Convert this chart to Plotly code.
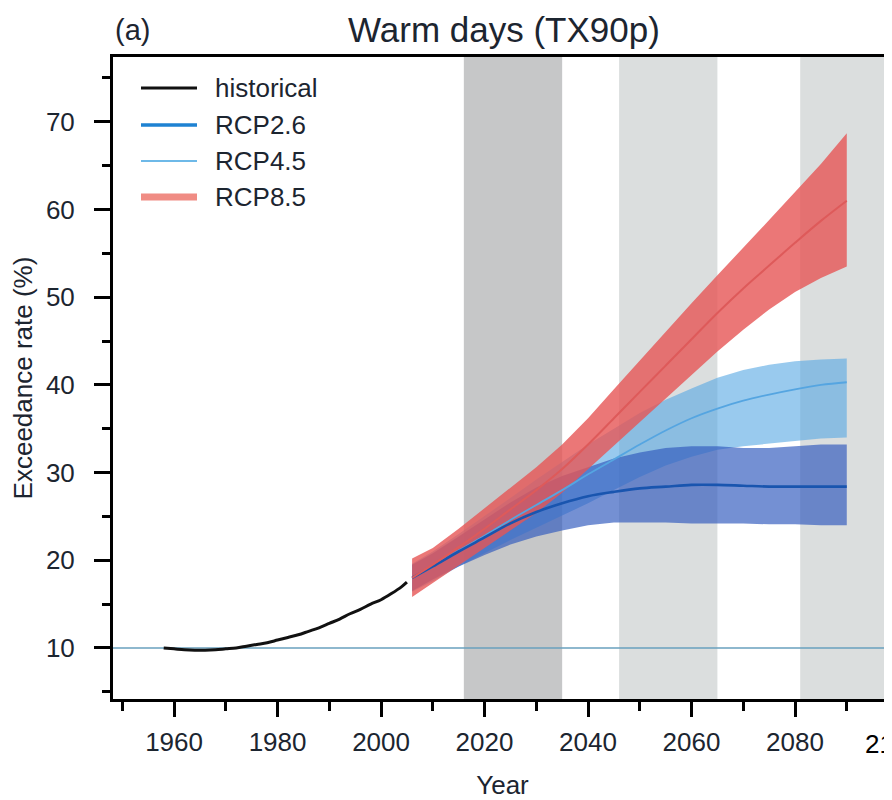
import plotly.graph_objects as go

# ---------------- data ----------------
hist_years = [1958, 1960, 1962, 1964, 1966, 1968, 1970, 1972, 1974, 1976, 1978, 1980,
              1982, 1984, 1986, 1988, 1990, 1992, 1994, 1996, 1998, 2000, 2002, 2004, 2005]
hist_vals = [10.0, 9.9, 9.8, 9.75, 9.75, 9.8, 9.9, 10.0, 10.2, 10.4, 10.6, 10.9,
             11.2, 11.5, 11.9, 12.3, 12.8, 13.3, 13.9, 14.4, 15.0, 15.5, 16.2, 17.0, 17.5]

rcp_years = [2006, 2010, 2015, 2020, 2025, 2030, 2035, 2040, 2045, 2050, 2055, 2060,
             2065, 2070, 2075, 2080, 2085, 2090]

rcp26_mean = [18.0, 19.3, 21.0, 22.6, 24.2, 25.5, 26.5, 27.3, 27.8, 28.2, 28.4, 28.6,
              28.6, 28.5, 28.4, 28.4, 28.4, 28.4]
rcp26_low = [16.5, 17.8, 19.3, 20.6, 21.8, 22.7, 23.4, 24.0, 24.3, 24.3, 24.3, 24.2,
             24.2, 24.2, 24.1, 24.1, 24.0, 24.0]
rcp26_high = [19.5, 20.8, 22.7, 24.6, 26.6, 28.3, 29.6, 30.6, 31.6, 32.3, 32.8, 33.0,
              33.0, 32.8, 32.8, 33.0, 33.2, 33.2]

rcp45_mean = [18.0, 19.3, 21.1, 22.8, 24.6, 26.3, 28.0, 29.8, 31.5, 33.2, 34.8, 36.2,
              37.3, 38.2, 38.9, 39.5, 40.0, 40.3]
rcp45_low = [16.4, 17.6, 19.3, 20.8, 22.3, 23.7, 25.1, 26.5, 28.0, 29.5, 30.8, 31.8,
             32.6, 33.0, 33.3, 33.6, 33.9, 34.0]
rcp45_high = [19.6, 21.0, 23.0, 25.0, 27.1, 29.2, 31.2, 33.2, 35.0, 36.8, 38.3, 39.6,
              40.8, 41.7, 42.3, 42.7, 42.9, 43.0]

rcp85_mean = [18.0, 19.5, 21.5, 23.6, 25.8, 28.0, 30.4, 33.2, 36.2, 39.2, 42.2, 45.2,
              48.2, 51.0, 53.6, 56.2, 58.7, 61.0]
rcp85_low = [15.8, 17.5, 19.5, 21.4, 23.4, 25.4, 27.7, 30.3, 33.0, 35.7, 38.4, 41.1,
             43.8, 46.3, 48.6, 50.6, 52.2, 53.5]
rcp85_high = [20.2, 21.4, 23.6, 25.9, 28.2, 30.6, 33.2, 36.2, 39.5, 42.8, 46.0, 49.3,
              52.5, 55.6, 58.8, 62.0, 65.2, 68.7]

periods = [(2016, 2035), (2046, 2065), (2081, 2100)]
baseline = 10
series_names = ["historical", "RCP2.6", "RCP4.5", "RCP8.5"]

# ---------------- styling ----------------
FONT = "Liberation Sans, Arial, Helvetica, sans-serif"
TXT = "#1c2530"
OFF = 8                      # page body margin offset
W, H = 892 - OFF, 800 - OFF
ML, MR, MT = 113 - OFF, 0, 57 - OFF
MB = H - (699 - OFF)
PW, PH = W - ML - MR, H - MT - MB
X_RANGE = [1948.2, 2098.74]
Y_RANGE = [4.18, 77.39]

def px(x):   # page pixel -> paper fraction
    return (x - OFF - ML) / PW

def py(y):
    return (H - MB - (y - OFF)) / PH

fig = go.Figure()

def band(years, low, high, color):
    fig.add_trace(go.Scatter(
        x=list(years) + list(years)[::-1],
        y=list(high) + list(low)[::-1],
        fill="toself", fillcolor=color, mode="lines",
        line=dict(width=0, color=color), hoverinfo="skip", showlegend=False))

band(rcp_years, rcp45_low, rcp45_high, "rgba(90,170,228,0.62)")
band(rcp_years, rcp26_low, rcp26_high, "rgba(50,92,190,0.68)")
band(rcp_years, rcp85_low, rcp85_high, "rgba(230,85,85,0.80)")

fig.add_trace(go.Scatter(x=rcp_years, y=rcp45_mean, mode="lines", name=series_names[2],
                         line=dict(color="rgb(85,165,225)", width=1.8, shape="spline"),
                         showlegend=False))
fig.add_trace(go.Scatter(x=rcp_years, y=rcp26_mean, mode="lines", name=series_names[1],
                         line=dict(color="rgb(25,85,175)", width=2.6, shape="spline"),
                         showlegend=False))
fig.add_trace(go.Scatter(x=rcp_years, y=rcp85_mean, mode="lines", name=series_names[3],
                         line=dict(color="rgb(222,90,90)", width=2, shape="spline"),
                         showlegend=False))
fig.add_trace(go.Scatter(x=hist_years, y=hist_vals, mode="lines", name=series_names[0],
                         line=dict(color="#111111", width=3, shape="spline"),
                         showlegend=False))

# period shading
shades = ["rgb(198,199,200)", "rgb(219,222,222)", "rgb(219,222,222)"]
for (a, b), c in zip(periods, shades):
    fig.add_shape(type="rect", xref="x", yref="paper", x0=a, x1=b, y0=0, y1=1,
                  fillcolor=c, line=dict(width=0), layer="below")
fig.add_shape(type="line", xref="paper", yref="y", x0=0, x1=1, y0=baseline, y1=baseline,
              line=dict(color="rgb(105,160,190)", width=1.6), layer="below")

# manual legend
leg_rows = [88, 125, 161, 197]
leg_styles = [("#111111", 3), ("rgb(30,130,210)", 3.5), ("rgb(110,185,232)", 2),
              ("rgb(240,140,132)", 7)]
for name, yy, (col, lw) in zip(series_names, leg_rows, leg_styles):
    fig.add_shape(type="line", xref="paper", yref="paper", x0=px(141), x1=px(197),
                  y0=py(yy), y1=py(yy), line=dict(color=col, width=lw))
    fig.add_annotation(xref="paper", yref="paper", x=px(213), y=py(yy), text=name,
                       showarrow=False, xanchor="left", yanchor="middle",
                       font=dict(family=FONT, size=26, color=TXT))

# panel label and partial tick label at the cut edge
fig.add_annotation(xref="paper", yref="paper", x=px(132), y=py(30), text="(a)",
                   showarrow=False, xanchor="center", yanchor="middle",
                   font=dict(family=FONT, size=29, color=TXT))
fig.add_annotation(xref="paper", yref="paper", x=px(863),
                   y=py(744), text="2100", showarrow=False, xanchor="left",
                   yanchor="middle", font=dict(family=FONT, size=26, color="#000"))

fig.update_layout(
    width=W, height=H,
    margin=dict(l=ML, r=MR, t=MT, b=MB, pad=0),
    paper_bgcolor="white", plot_bgcolor="white",
    font=dict(family=FONT, color=TXT, size=26),
    title=dict(text="Warm days (TX90p)", x=(504 - OFF) / W, xanchor="center",
               y=1 - (30 - OFF) / H, yanchor="middle",
               font=dict(family=FONT, size=35, color=TXT)),
    showlegend=False,
    xaxis=dict(range=X_RANGE, showgrid=False, zeroline=False,
               showline=True, linecolor="black", linewidth=3, mirror=True,
               ticks="outside", ticklen=15, tickwidth=2.5, tickcolor="black",
               tick0=1960, dtick=20, ticklabelstandoff=3,
               tickfont=dict(family=FONT, size=26, color=TXT),
               minor=dict(dtick=10, tick0=1950, ticks="outside", ticklen=9,
                          tickwidth=2.5, tickcolor="black"),
               title=dict(text="Year", standoff=22,
                          font=dict(family=FONT, size=26, color=TXT))),
    yaxis=dict(range=Y_RANGE, showgrid=False, zeroline=False,
               showline=True, linecolor="black", linewidth=3,
               ticks="outside", ticklen=16, tickwidth=2.5, tickcolor="black",
               tick0=0, dtick=10, ticklabelstandoff=14,
               tickfont=dict(family=FONT, size=26, color=TXT),
               minor=dict(dtick=5, tick0=0, ticks="outside", ticklen=8,
                          tickwidth=2.5, tickcolor="black"),
               title=dict(text="Exceedance rate (%)", standoff=6,
                          font=dict(family=FONT, size=26, color=TXT))),
)

fig.write_html("out.html")
